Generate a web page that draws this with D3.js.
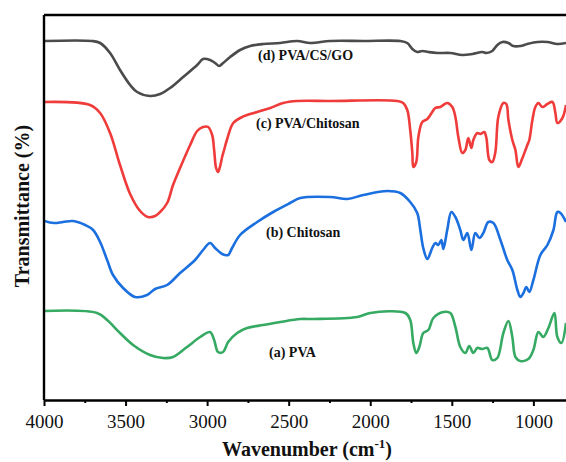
<!DOCTYPE html>
<html>
<head>
<meta charset="utf-8">
<script src="https://cdn.jsdelivr.net/npm/d3@7"></script>
<style>
  html, body { margin: 0; padding: 0; background: #fff; }
  svg, svg text { font-family: "Liberation Serif", "Times New Roman", serif; }
</style>
</head>
<body>
<div id="chart"></div>
<script>
// wavenumber (cm-1) and offset transmittance (arbitrary units) per spectrum
const pvaCsGoWn = [4000,3706,3656,3595,3534,3472,3429,3350,3288,3227,3147,3061,3025,2982,2951,2926,2902,2859,2798,2736,2656,2552,2448,2368,2245,2043,1816,1773,1742,1712,1681,1644,1589,1509,1436,1374,1313,1288,1252,1221,1190,1153,1123,1080,1037,975,914,853,800];
const pvaCsGoT  = [359,359,357,347,330,315,308,304,306,312,323,335,341,340,337,334,337,343,350,354,356,357,359,357,359,359,359,357,351,348,349,348,347,347,345,346,348,347,349,355,358,357,354,354,356,358,358,356,357];

const pvaCsWn = [4000,3718,3656,3595,3534,3472,3411,3362,3319,3288,3245,3209,3166,3104,3061,3025,2994,2969,2957,2945,2933,2920,2908,2896,2877,2840,2785,2693,2613,2534,2448,2245,1834,1798,1773,1755,1742,1736,1718,1705,1681,1650,1620,1601,1571,1528,1497,1478,1460,1436,1417,1399,1380,1368,1344,1325,1301,1288,1270,1252,1233,1215,1184,1166,1153,1129,1110,1092,1067,1037,1025,1006,988,969,945,914,883,865,853,822,800];
const pvaCsT  = [298,295,287,267,235,206,189,183,184,188,197,215,232,255,269,273,273,265,250,232,228,234,243,250,261,277,283,288,292,297,299,299,299,297,290,270,247,233,238,263,278,281,288,292,293,297,293,283,263,247,250,262,252,260,267,266,268,262,240,238,248,283,297,296,280,260,250,233,242,255,260,280,293,297,293,296,298,287,277,282,295];

const chitosanWn = [4000,3940,3883,3822,3748,3699,3656,3613,3577,3515,3442,3368,3319,3245,3166,3074,3025,2982,2951,2908,2871,2847,2798,2693,2595,2491,2429,2245,2141,2043,1896,1816,1755,1712,1693,1675,1650,1620,1601,1583,1564,1552,1528,1503,1478,1448,1429,1405,1380,1356,1331,1307,1276,1245,1202,1160,1129,1098,1080,1061,1043,1025,1000,957,914,877,853,834,800];
const chitosanT  = [179,177,178,179,175,170,158,140,125,112,103,105,111,115,127,140,150,157,152,146,145,152,165,178,188,197,202,203,201,205,209,207,198,187,170,152,141,152,157,155,160,151,170,188,183,170,160,167,150,167,162,167,178,177,160,140,130,110,103,107,113,108,120,145,155,170,188,187,178];

const pvaWn = [4000,3675,3613,3534,3454,3350,3270,3209,3123,3043,2982,2957,2933,2902,2871,2816,2755,2656,2552,2429,2350,2080,2000,1785,1755,1736,1718,1699,1675,1644,1613,1552,1509,1478,1448,1417,1393,1368,1344,1313,1282,1252,1221,1184,1153,1129,1110,1080,1031,1000,969,939,908,871,853,828,800];
const pvaT  = [89,87,80,67,55,45,42,43,53,63,68,60,48,48,58,67,72,75,78,81,81,83,87,87,80,57,47,53,67,70,82,88,87,73,53,47,54,47,52,51,52,40,42,67,79,63,43,39,41,50,68,63,72,87,63,57,77];

const seriesNames  = ["(d) PVA/CS/GO", "(c) PVA/Chitosan", "(b) Chitosan", "(a) PVA"];
const seriesColors = ["#4b4b4b", "#f03b3b", "#1b6fdf", "#36aa63"];
const xTicks = [4000, 3500, 3000, 2500, 2000, 1500, 1000];
const xMinorTicks = [3750, 3250, 2750, 2250, 1750, 1250];

const spectra = [
  { wn: pvaCsGoWn, t: pvaCsGoT, lx: 258, ly: 60 },
  { wn: pvaCsWn, t: pvaCsT, lx: 256, ly: 128 },
  { wn: chitosanWn, t: chitosanT, lx: 266, ly: 237 },
  { wn: pvaWn, t: pvaT, lx: 269, ly: 357 }
];

const FONT = "'Liberation Serif', 'Times New Roman', serif";
const W = 566, H = 462;
const m = { l: 44, r: 566, t: 15, b: 400 };

const svg = d3.select("#chart").append("svg")
  .attr("width", W).attr("height", H).style("display", "block");

const x = d3.scaleLinear().domain([4000, 800]).range([m.l, m.r]);
const y = d3.scaleLinear().domain([0, 385]).range([m.b, m.t]);

svg.append("defs").append("clipPath").attr("id", "plot")
  .append("rect").attr("x", m.l).attr("y", m.t).attr("width", m.r - m.l).attr("height", m.b - m.t);

const line = d3.line().x(d => x(d[0])).y(d => y(d[1])).curve(d3.curveCatmullRom.alpha(0.5));

const g = svg.append("g").attr("clip-path", "url(#plot)");
spectra.forEach((s, i) => {
  g.append("path")
    .datum(s.wn.map((w, k) => [w, s.t[k]]))
    .attr("fill", "none").attr("stroke", seriesColors[i])
    .attr("stroke-width", 2.6).attr("stroke-linejoin", "round")
    .attr("d", line);
});

spectra.forEach((s, i) => {
  svg.append("text").attr("x", s.lx).attr("y", s.ly)
    .style("font-family", FONT)
    .attr("font-size", "14px").attr("font-weight", "bold").attr("fill", "#111")
    .text(seriesNames[i]);
});

// minor ticks first so the major axis sits on top
svg.append("g").attr("transform", `translate(0,${m.b})`)
  .call(d3.axisBottom(x).tickValues(xMinorTicks).tickSize(3).tickSizeOuter(0).tickFormat(""))
  .call(a => a.select(".domain").remove())
  .call(a => a.selectAll("line").attr("stroke-width", 2));

const xAxis = svg.append("g").attr("transform", `translate(0,${m.b})`)
  .call(d3.axisBottom(x).tickValues(xTicks).tickSize(6).tickSizeOuter(0).tickPadding(9).tickFormat(d3.format("d")));
xAxis.select(".domain").attr("stroke-width", 2.4);
xAxis.selectAll("line").attr("stroke-width", 2);
xAxis.selectAll("text").attr("fill", "#111")
  .style("font-family", FONT).style("font-size", "19px");

// left and top frame lines
svg.append("line").attr("x1", m.l).attr("x2", m.l).attr("y1", m.t).attr("y2", m.b)
  .attr("stroke", "#000").attr("stroke-width", 2.4);
svg.append("line").attr("x1", m.l).attr("x2", m.r).attr("y1", m.t).attr("y2", m.t)
  .attr("stroke", "#000").attr("stroke-width", 2.4);

const xt = svg.append("text").attr("x", 307).attr("y", 456).attr("text-anchor", "middle")
  .style("font-family", FONT)
  .attr("font-size", "20px").attr("font-weight", "bold").attr("fill", "#111");
xt.append("tspan").text("Wavenumber (cm");
xt.append("tspan").attr("font-size", "13px").attr("dy", -8).text("-1");
xt.append("tspan").attr("dy", 8).text(")");

svg.append("text").attr("transform", "translate(29,206) rotate(-90)").attr("text-anchor", "middle")
  .style("font-family", FONT)
  .attr("font-size", "20px").attr("font-weight", "bold").attr("fill", "#111")
  .text("Transmittance (%)");
</script>
</body>
</html>
